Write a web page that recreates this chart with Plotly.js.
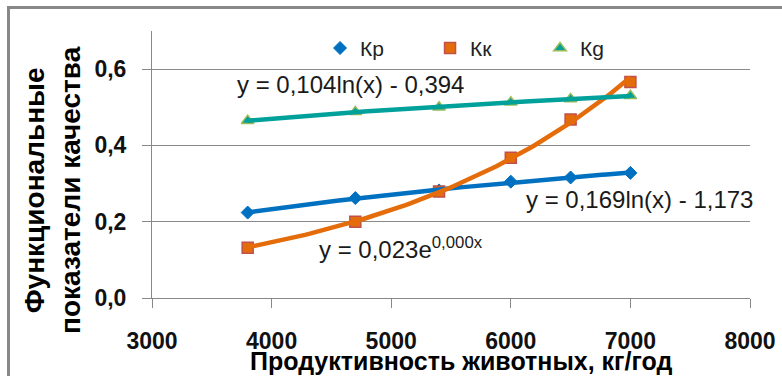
<!DOCTYPE html>
<html>
<head>
<meta charset="utf-8">
<script src="https://cdn.plot.ly/plotly-3.0.1.min.js"></script>
<style>
  html, body { margin: 0; padding: 0; background: #fff; }
  #wrap { position: relative; width: 782px; height: 376px; overflow: hidden; }
  #chart { position: absolute; left: 0; top: 0; width: 782px; height: 376px; }
  .bl { position: absolute; left: 7px; top: 6px; width: 3px; height: 370px; background: #888; }
  .bt { position: absolute; left: 7px; top: 6px; width: 775px; height: 2.5px; background: #888; }
</style>
</head>
<body>
<div id="wrap">
  <div id="chart"></div>
  <div class="bl"></div>
  <div class="bt"></div>
</div>
<script>
// ---- data ----
const xProd = [3800, 4700, 5400, 6000, 6500, 7000];
const kp = [0.224, 0.262, 0.282, 0.305, 0.316, 0.328];
const kk = [0.132, 0.200, 0.279, 0.368, 0.468, 0.566];
const kg = [0.465, 0.488, 0.500, 0.513, 0.522, 0.530];
const seriesNames = ['Кр', 'Кк', 'Кg'];
const eqTexts = ['y = 0,104ln(x) - 0,394', 'y = 0,169ln(x) - 1,173', 'y = 0,023e<sup>0,000x</sup>'];
const xTitle = 'Продуктивность животных, кг/год';
const yTitle = 'Функциональные<br>показатели качества';
const xTicks = [3000, 4000, 5000, 6000, 7000, 8000];
const yTicks = [0, 0.2, 0.4, 0.6];

// ---- least-squares trendlines (as the spreadsheet does) ----
function linfit(xs, ys) {
  const n = xs.length;
  let sx = 0, sy = 0, sxx = 0, sxy = 0;
  for (let i = 0; i < n; i++) { sx += xs[i]; sy += ys[i]; sxx += xs[i]*xs[i]; sxy += xs[i]*ys[i]; }
  const b = (n*sxy - sx*sy) / (n*sxx - sx*sx);
  const a = (sy - b*sx) / n;
  return {a, b};
}
function logTrend(xs, ys) {
  const f = linfit(xs.map(Math.log), ys);
  return x => f.a + f.b*Math.log(x);
}
function expTrend(xs, ys) {
  const f = linfit(xs, ys.map(Math.log));
  return x => Math.exp(f.a) * Math.exp(f.b*x);
}
const xmin = Math.min(...xProd), xmax = Math.max(...xProd);
const tx = [];
for (let i = 0; i <= 80; i++) tx.push(xmin + (xmax - xmin)*i/80);
const fKp = logTrend(xProd, kp), fKk = expTrend(xProd, kk), fKg = logTrend(xProd, kg);

const cBlue = '#0070C0', cOrange = '#E46C0A', cTeal = '#00A09B';
const FONT = 'Liberation Sans, Arial, sans-serif';

const traces = [
  {x: xProd, y: kp, name: seriesNames[0], mode: 'markers', type: 'scatter',
   marker: {symbol: 'diamond', size: 10, color: cBlue, line: {color: cBlue, width: 1}}},
  {x: xProd, y: kk, name: seriesNames[1], mode: 'markers', type: 'scatter',
   marker: {symbol: 'square', size: 11, color: cOrange, line: {color: '#C0504D', width: 1.5}}},
  {x: xProd, y: kg, name: seriesNames[2], mode: 'markers', type: 'scatter',
   marker: {symbol: 'triangle-up', size: 11, color: cTeal, line: {color: '#9BBB59', width: 1.5}}},
  {x: tx, y: tx.map(fKp), mode: 'lines', showlegend: false, hoverinfo: 'skip',
   line: {color: cBlue, width: 4.5}},
  {x: tx, y: tx.map(fKk), mode: 'lines', showlegend: false, hoverinfo: 'skip',
   line: {color: cOrange, width: 4.5}},
  {x: tx, y: tx.map(fKg), mode: 'lines', showlegend: false, hoverinfo: 'skip',
   line: {color: cTeal, width: 4.5}}
];

const layout = {
  width: 782, height: 376,
  margin: {l: 152, r: 32, t: 31, b: 78},
  paper_bgcolor: 'rgba(0,0,0,0)', plot_bgcolor: 'rgba(0,0,0,0)',
  separators: ', ',
  font: {family: FONT, color: '#111'},
  showlegend: true,
  legend: {orientation: 'h', x: 0.281, xanchor: 'left', y: 0.935, yanchor: 'middle',
           bgcolor: 'rgba(0,0,0,0)', font: {family: FONT, size: 21, color: '#222'},
           entrywidth: 65, itemsizing: 'trace', traceorder: 'normal'},
  xaxis: {range: [3000, 8000], tickvals: xTicks, showgrid: false, zeroline: false,
          showline: true, linecolor: '#888', linewidth: 1,
          ticks: 'outside', ticklen: 9, tickcolor: '#888', tickwidth: 1,
          ticklabelstandoff: 13,
          tickfont: {family: FONT, size: 23, color: '#111', weight: 'bold'}},
  yaxis: {range: [0, 0.7], tickvals: yTicks, tickformat: '.1f', showgrid: true,
          gridcolor: '#8a8a8a', gridwidth: 1, zeroline: false,
          showline: true, linecolor: '#888', linewidth: 1,
          ticks: 'outside', ticklen: 9, tickcolor: '#888', tickwidth: 1,
          ticklabelstandoff: 11,
          tickfont: {family: FONT, size: 23, color: '#111', weight: 'bold'}},
  annotations: [
    {text: yTitle, textangle: -90,
     xref: 'paper', yref: 'paper', x: -0.1656, y: 0.4045, xanchor: 'center', yanchor: 'middle',
     showarrow: false, font: {family: FONT, size: 28, color: '#000', weight: 'bold'}},
    {text: xTitle,
     xref: 'paper', yref: 'paper', x: 0.5167, y: -0.236, xanchor: 'center', yanchor: 'middle',
     showarrow: false, font: {family: FONT, size: 25, color: '#000', weight: 'bold'}},
    {text: eqTexts[0], xref: 'x', yref: 'y', x: 3694, y: 0.5605, xanchor: 'left', yanchor: 'middle',
     showarrow: false, font: {family: FONT, size: 24, color: '#1a1a1a'}},
    {text: eqTexts[1], xref: 'x', yref: 'y', x: 6110, y: 0.258, xanchor: 'left', yanchor: 'middle',
     showarrow: false, font: {family: FONT, size: 24, color: '#1a1a1a'}},
    {text: eqTexts[2], xref: 'x', yref: 'y', x: 4380, y: 0.13, xanchor: 'left', yanchor: 'middle',
     showarrow: false, font: {family: FONT, size: 24, color: '#1a1a1a'}}
  ]
};

Plotly.newPlot('chart', traces, layout, {displayModeBar: false, staticPlot: true});
</script>
</body>
</html>
